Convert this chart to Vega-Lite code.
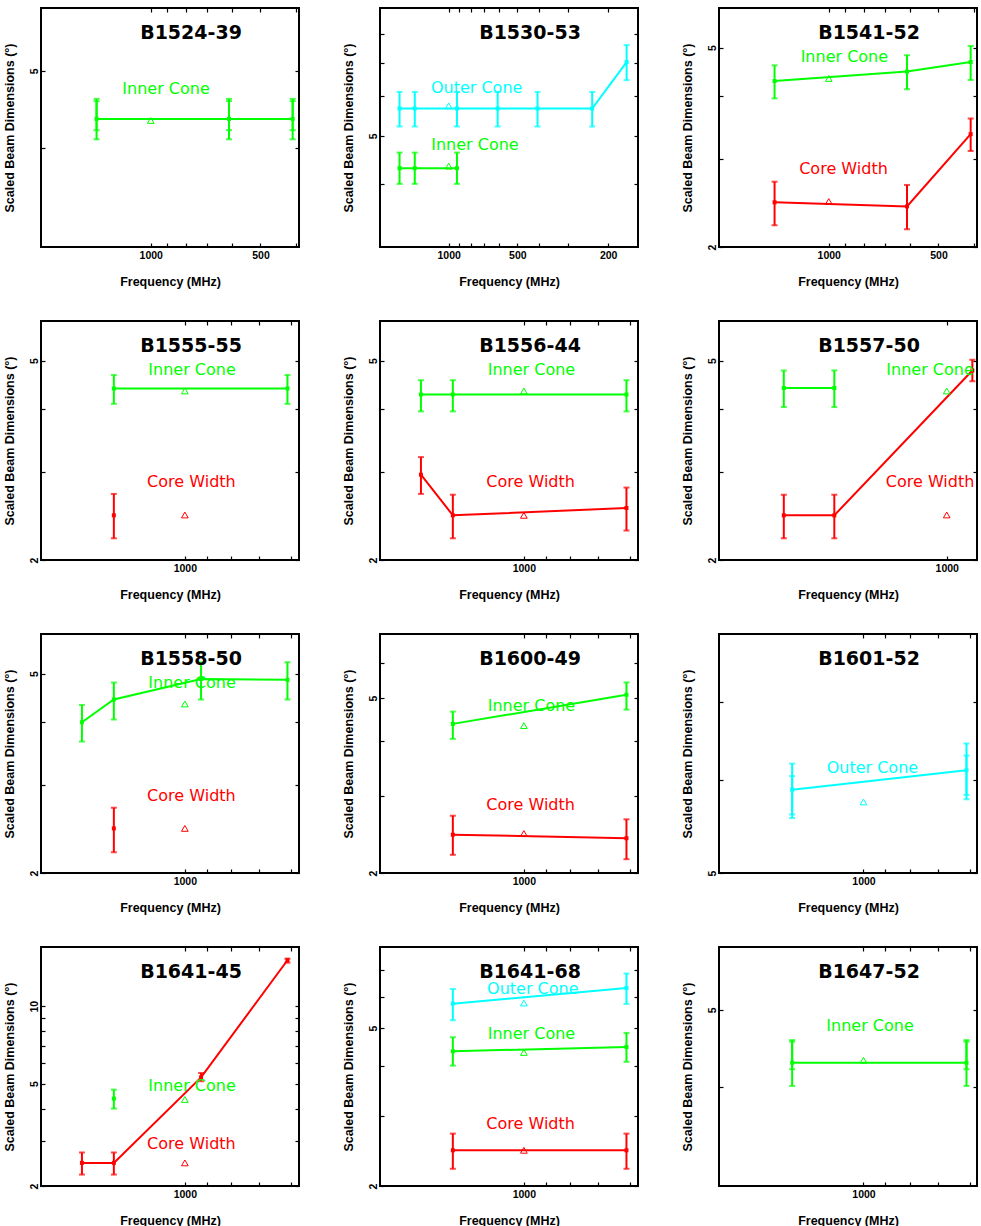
{
"$schema": "https://vega.github.io/schema/vega-lite/v6.json",
"background": "white",
"padding": {"left": 2, "top": 6, "right": 0, "bottom": 0},
"columns": 3,
"spacing": {"row": 74, "column": 81},
"bounds": "flush",
"data": {"values": [
{"p":"B1524-39","k":"p","c":"Inner Cone","f":1408,"v":4.35},
{"p":"B1524-39","k":"p","c":"Inner Cone","f":610,"v":4.35},
{"p":"B1524-39","k":"p","c":"Inner Cone","f":408,"v":4.35},
{"p":"B1524-39","k":"e","c":"Inner Cone","f":1408,"lo":4.10,"hi":4.61},
{"p":"B1524-39","k":"e","c":"Inner Cone","f":1408,"lo":4.21,"hi":4.58},
{"p":"B1524-39","k":"e","c":"Inner Cone","f":610,"lo":4.10,"hi":4.61},
{"p":"B1524-39","k":"e","c":"Inner Cone","f":610,"lo":4.21,"hi":4.58},
{"p":"B1524-39","k":"e","c":"Inner Cone","f":408,"lo":4.10,"hi":4.61},
{"p":"B1524-39","k":"e","c":"Inner Cone","f":408,"lo":4.21,"hi":4.58},
{"p":"B1524-39","k":"t","c":"Inner Cone","f":1000,"v":4.33},
{"p":"B1524-39","k":"l","c":"Inner Cone","f":908,"v":4.75},

{"p":"B1530-53","k":"p","c":"Outer Cone","f":1642,"v":5.67},
{"p":"B1530-53","k":"p","c":"Outer Cone","f":1408,"v":5.67},
{"p":"B1530-53","k":"p","c":"Outer Cone","f":920,"v":5.67},
{"p":"B1530-53","k":"p","c":"Outer Cone","f":610,"v":5.67},
{"p":"B1530-53","k":"p","c":"Outer Cone","f":408,"v":5.67},
{"p":"B1530-53","k":"p","c":"Outer Cone","f":235,"v":5.67},
{"p":"B1530-53","k":"p","c":"Outer Cone","f":166,"v":7.02},
{"p":"B1530-53","k":"e","c":"Outer Cone","f":1642,"lo":5.22,"hi":6.12},
{"p":"B1530-53","k":"e","c":"Outer Cone","f":1408,"lo":5.22,"hi":6.12},
{"p":"B1530-53","k":"e","c":"Outer Cone","f":920,"lo":5.22,"hi":6.12},
{"p":"B1530-53","k":"e","c":"Outer Cone","f":610,"lo":5.22,"hi":6.12},
{"p":"B1530-53","k":"e","c":"Outer Cone","f":408,"lo":5.22,"hi":6.12},
{"p":"B1530-53","k":"e","c":"Outer Cone","f":235,"lo":5.22,"hi":6.12},
{"p":"B1530-53","k":"e","c":"Outer Cone","f":166,"lo":6.46,"hi":7.59},
{"p":"B1530-53","k":"p","c":"Inner Cone","f":1642,"v":4.31},
{"p":"B1530-53","k":"p","c":"Inner Cone","f":1408,"v":4.31},
{"p":"B1530-53","k":"p","c":"Inner Cone","f":920,"v":4.31},
{"p":"B1530-53","k":"e","c":"Inner Cone","f":1642,"lo":4.01,"hi":4.63},
{"p":"B1530-53","k":"e","c":"Inner Cone","f":1408,"lo":4.01,"hi":4.63},
{"p":"B1530-53","k":"e","c":"Inner Cone","f":920,"lo":4.01,"hi":4.63},
{"p":"B1530-53","k":"t","c":"Outer Cone","f":1000,"v":5.74},
{"p":"B1530-53","k":"t","c":"Inner Cone","f":1000,"v":4.35},
{"p":"B1530-53","k":"l","c":"Outer Cone","f":754,"v":6.24},
{"p":"B1530-53","k":"l","c":"Inner Cone","f":767,"v":4.79},

{"p":"B1541-52","k":"p","c":"Inner Cone","f":1408,"v":4.29},
{"p":"B1541-52","k":"p","c":"Inner Cone","f":610,"v":4.48},
{"p":"B1541-52","k":"p","c":"Inner Cone","f":408,"v":4.68},
{"p":"B1541-52","k":"e","c":"Inner Cone","f":1408,"lo":3.96,"hi":4.61},
{"p":"B1541-52","k":"e","c":"Inner Cone","f":610,"lo":4.13,"hi":4.83},
{"p":"B1541-52","k":"e","c":"Inner Cone","f":408,"lo":4.31,"hi":5.04},
{"p":"B1541-52","k":"p","c":"Core Width","f":1408,"v":2.456},
{"p":"B1541-52","k":"p","c":"Core Width","f":610,"v":2.41},
{"p":"B1541-52","k":"p","c":"Core Width","f":408,"v":3.36},
{"p":"B1541-52","k":"e","c":"Core Width","f":1408,"lo":2.21,"hi":2.70},
{"p":"B1541-52","k":"e","c":"Core Width","f":610,"lo":2.17,"hi":2.66},
{"p":"B1541-52","k":"e","c":"Core Width","f":408,"lo":3.11,"hi":3.61},
{"p":"B1541-52","k":"t","c":"Inner Cone","f":1000,"v":4.34},
{"p":"B1541-52","k":"t","c":"Core Width","f":1000,"v":2.465},
{"p":"B1541-52","k":"l","c":"Inner Cone","f":906,"v":4.79},
{"p":"B1541-52","k":"l","c":"Core Width","f":911,"v":2.86},

{"p":"B1555-55","k":"p","c":"Inner Cone","f":1408,"v":4.40},
{"p":"B1555-55","k":"p","c":"Inner Cone","f":610,"v":4.40},
{"p":"B1555-55","k":"e","c":"Inner Cone","f":1408,"lo":4.10,"hi":4.68},
{"p":"B1555-55","k":"e","c":"Inner Cone","f":610,"lo":4.10,"hi":4.68},
{"p":"B1555-55","k":"p","c":"Core Width","f":1408,"v":2.456},
{"p":"B1555-55","k":"e","c":"Core Width","f":1408,"lo":2.21,"hi":2.71},
{"p":"B1555-55","k":"t","c":"Inner Cone","f":1000,"v":4.35},
{"p":"B1555-55","k":"t","c":"Core Width","f":1000,"v":2.46},
{"p":"B1555-55","k":"l","c":"Inner Cone","f":966,"v":4.80},
{"p":"B1555-55","k":"l","c":"Core Width","f":969,"v":2.86},

{"p":"B1556-44","k":"p","c":"Inner Cone","f":1642,"v":4.28},
{"p":"B1556-44","k":"p","c":"Inner Cone","f":1408,"v":4.28},
{"p":"B1556-44","k":"p","c":"Inner Cone","f":610,"v":4.28},
{"p":"B1556-44","k":"e","c":"Inner Cone","f":1642,"lo":3.96,"hi":4.57},
{"p":"B1556-44","k":"e","c":"Inner Cone","f":1408,"lo":3.96,"hi":4.57},
{"p":"B1556-44","k":"e","c":"Inner Cone","f":610,"lo":3.96,"hi":4.57},
{"p":"B1556-44","k":"p","c":"Core Width","f":1642,"v":2.96},
{"p":"B1556-44","k":"p","c":"Core Width","f":1408,"v":2.456},
{"p":"B1556-44","k":"p","c":"Core Width","f":610,"v":2.54},
{"p":"B1556-44","k":"e","c":"Core Width","f":1642,"lo":2.71,"hi":3.21},
{"p":"B1556-44","k":"e","c":"Core Width","f":1408,"lo":2.21,"hi":2.70},
{"p":"B1556-44","k":"e","c":"Core Width","f":610,"lo":2.29,"hi":2.79},
{"p":"B1556-44","k":"t","c":"Inner Cone","f":1000,"v":4.35},
{"p":"B1556-44","k":"t","c":"Core Width","f":1000,"v":2.456},
{"p":"B1556-44","k":"l","c":"Inner Cone","f":964,"v":4.80},
{"p":"B1556-44","k":"l","c":"Core Width","f":968,"v":2.86},

{"p":"B1557-50","k":"p","c":"Inner Cone","f":1642,"v":4.41},
{"p":"B1557-50","k":"p","c":"Inner Cone","f":1408,"v":4.41},
{"p":"B1557-50","k":"e","c":"Inner Cone","f":1642,"lo":4.04,"hi":4.78},
{"p":"B1557-50","k":"e","c":"Inner Cone","f":1408,"lo":4.04,"hi":4.78},
{"p":"B1557-50","k":"p","c":"Core Width","f":1642,"v":2.456},
{"p":"B1557-50","k":"p","c":"Core Width","f":1408,"v":2.456},
{"p":"B1557-50","k":"p","c":"Core Width","f":925,"v":4.78},
{"p":"B1557-50","k":"e","c":"Core Width","f":1642,"lo":2.21,"hi":2.70},
{"p":"B1557-50","k":"e","c":"Core Width","f":1408,"lo":2.21,"hi":2.70},
{"p":"B1557-50","k":"e","c":"Core Width","f":925,"lo":4.55,"hi":5.02},
{"p":"B1557-50","k":"t","c":"Inner Cone","f":1000,"v":4.35},
{"p":"B1557-50","k":"t","c":"Core Width","f":1000,"v":2.46},
{"p":"B1557-50","k":"l","c":"Inner Cone","f":1052,"v":4.80},
{"p":"B1557-50","k":"l","c":"Core Width","f":1052,"v":2.86},

{"p":"B1558-50","k":"p","c":"Inner Cone","f":1642,"v":4.00},
{"p":"B1558-50","k":"p","c":"Inner Cone","f":1408,"v":4.44},
{"p":"B1558-50","k":"p","c":"Inner Cone","f":925,"v":4.88},
{"p":"B1558-50","k":"p","c":"Inner Cone","f":610,"v":4.86},
{"p":"B1558-50","k":"e","c":"Inner Cone","f":1642,"lo":3.66,"hi":4.33},
{"p":"B1558-50","k":"e","c":"Inner Cone","f":1408,"lo":4.05,"hi":4.80},
{"p":"B1558-50","k":"e","c":"Inner Cone","f":925,"lo":4.44,"hi":5.27},
{"p":"B1558-50","k":"e","c":"Inner Cone","f":610,"lo":4.44,"hi":5.27},
{"p":"B1558-50","k":"p","c":"Core Width","f":1408,"v":2.455},
{"p":"B1558-50","k":"e","c":"Core Width","f":1408,"lo":2.20,"hi":2.70},
{"p":"B1558-50","k":"t","c":"Inner Cone","f":1000,"v":4.35},
{"p":"B1558-50","k":"t","c":"Core Width","f":1000,"v":2.455},
{"p":"B1558-50","k":"l","c":"Inner Cone","f":966,"v":4.78},
{"p":"B1558-50","k":"l","c":"Core Width","f":969,"v":2.85},

{"p":"B1600-49","k":"p","c":"Inner Cone","f":1408,"v":4.37},
{"p":"B1600-49","k":"p","c":"Inner Cone","f":610,"v":5.09},
{"p":"B1600-49","k":"e","c":"Inner Cone","f":1408,"lo":4.04,"hi":4.66},
{"p":"B1600-49","k":"e","c":"Inner Cone","f":610,"lo":4.71,"hi":5.43},
{"p":"B1600-49","k":"p","c":"Core Width","f":1408,"v":2.445},
{"p":"B1600-49","k":"p","c":"Core Width","f":610,"v":2.40},
{"p":"B1600-49","k":"e","c":"Core Width","f":1408,"lo":2.20,"hi":2.70},
{"p":"B1600-49","k":"e","c":"Core Width","f":610,"lo":2.15,"hi":2.65},
{"p":"B1600-49","k":"t","c":"Inner Cone","f":1000,"v":4.33},
{"p":"B1600-49","k":"t","c":"Core Width","f":1000,"v":2.46},
{"p":"B1600-49","k":"l","c":"Inner Cone","f":964,"v":4.81},
{"p":"B1600-49","k":"l","c":"Core Width","f":968,"v":2.86},

{"p":"B1601-52","k":"p","c":"Outer Cone","f":1408,"v":5.89},
{"p":"B1601-52","k":"p","c":"Outer Cone","f":610,"v":6.12},
{"p":"B1601-52","k":"e","c":"Outer Cone","f":1408,"lo":5.57,"hi":6.20},
{"p":"B1601-52","k":"e","c":"Outer Cone","f":1408,"lo":5.61,"hi":6.05},
{"p":"B1601-52","k":"e","c":"Outer Cone","f":610,"lo":5.78,"hi":6.45},
{"p":"B1601-52","k":"e","c":"Outer Cone","f":610,"lo":5.83,"hi":6.30},
{"p":"B1601-52","k":"t","c":"Outer Cone","f":1000,"v":5.75},
{"p":"B1601-52","k":"l","c":"Outer Cone","f":958,"v":6.15},

{"p":"B1641-45","k":"p","c":"Core Width","f":1642,"v":2.46},
{"p":"B1641-45","k":"p","c":"Core Width","f":1408,"v":2.46},
{"p":"B1641-45","k":"p","c":"Core Width","f":925,"v":5.29},
{"p":"B1641-45","k":"p","c":"Core Width","f":610,"v":15.1},
{"p":"B1641-45","k":"e","c":"Core Width","f":1642,"lo":2.215,"hi":2.70},
{"p":"B1641-45","k":"e","c":"Core Width","f":1408,"lo":2.215,"hi":2.70},
{"p":"B1641-45","k":"e","c":"Core Width","f":925,"lo":5.11,"hi":5.50},
{"p":"B1641-45","k":"e","c":"Core Width","f":610,"lo":14.78,"hi":15.32},
{"p":"B1641-45","k":"p","c":"Inner Cone","f":1408,"v":4.375},
{"p":"B1641-45","k":"e","c":"Inner Cone","f":1408,"lo":4.00,"hi":4.74},
{"p":"B1641-45","k":"t","c":"Inner Cone","f":1000,"v":4.34},
{"p":"B1641-45","k":"t","c":"Core Width","f":1000,"v":2.46},
{"p":"B1641-45","k":"l","c":"Inner Cone","f":966,"v":4.89},
{"p":"B1641-45","k":"l","c":"Core Width","f":969,"v":2.92},

{"p":"B1641-68","k":"p","c":"Outer Cone","f":1408,"v":5.76},
{"p":"B1641-68","k":"p","c":"Outer Cone","f":610,"v":6.31},
{"p":"B1641-68","k":"e","c":"Outer Cone","f":1408,"lo":5.23,"hi":6.27},
{"p":"B1641-68","k":"e","c":"Outer Cone","f":610,"lo":5.75,"hi":6.86},
{"p":"B1641-68","k":"p","c":"Inner Cone","f":1408,"v":4.37},
{"p":"B1641-68","k":"p","c":"Inner Cone","f":610,"v":4.48},
{"p":"B1641-68","k":"e","c":"Inner Cone","f":1408,"lo":4.02,"hi":4.74},
{"p":"B1641-68","k":"e","c":"Inner Cone","f":610,"lo":4.11,"hi":4.86},
{"p":"B1641-68","k":"p","c":"Core Width","f":1408,"v":2.46},
{"p":"B1641-68","k":"p","c":"Core Width","f":610,"v":2.46},
{"p":"B1641-68","k":"e","c":"Core Width","f":1408,"lo":2.21,"hi":2.71},
{"p":"B1641-68","k":"e","c":"Core Width","f":610,"lo":2.21,"hi":2.71},
{"p":"B1641-68","k":"t","c":"Outer Cone","f":1000,"v":5.78},
{"p":"B1641-68","k":"t","c":"Inner Cone","f":1000,"v":4.34},
{"p":"B1641-68","k":"t","c":"Core Width","f":1000,"v":2.46},
{"p":"B1641-68","k":"l","c":"Outer Cone","f":958,"v":6.27},
{"p":"B1641-68","k":"l","c":"Inner Cone","f":964,"v":4.82},
{"p":"B1641-68","k":"l","c":"Core Width","f":968,"v":2.87},

{"p":"B1647-52","k":"p","c":"Inner Cone","f":1408,"v":4.29},
{"p":"B1647-52","k":"p","c":"Inner Cone","f":610,"v":4.29},
{"p":"B1647-52","k":"e","c":"Inner Cone","f":1408,"lo":4.01,"hi":4.58},
{"p":"B1647-52","k":"e","c":"Inner Cone","f":1408,"lo":4.21,"hi":4.56},
{"p":"B1647-52","k":"e","c":"Inner Cone","f":610,"lo":4.01,"hi":4.58},
{"p":"B1647-52","k":"e","c":"Inner Cone","f":610,"lo":4.21,"hi":4.56},
{"p":"B1647-52","k":"t","c":"Inner Cone","f":1000,"v":4.32},
{"p":"B1647-52","k":"l","c":"Inner Cone","f":969,"v":4.77}
]},
"concat": [
{"title":"B1524-39","width":258,"height":239,"transform":[{"filter":"datum.p == 'B1524-39'"}],"resolve":{"axis":{"x":"independent","y":"independent"}},"layer":[
 {"transform":[{"filter":"datum.k == 'e'"}],"mark":{"type":"rule","strokeWidth":2},"encoding":{"x":{"field":"f","type":"quantitative","scale":{"type":"log","domain":[392,2000],"reverse":true,"nice":false},"axis":{"orient":"bottom","values":[400,500,600,700,800,900,1000],"title":"Frequency (MHz)","format":"d","labelExpr":"indexof([2,5,10,200,500,1000], datum.value) >= 0 ? datum.label : ''"}},"y":{"field":"lo","type":"quantitative","scale":{"type":"log","domain":[3,6],"nice":false},"axis":{"orient":"left","values":[4,5],"title":"Scaled Beam Dimensions (°)","format":"d","labelExpr":"indexof([2,5,10,200,500,1000], datum.value) >= 0 ? datum.label : ''"}},"y2":{"field":"hi"},"color":{"field":"c","type":"nominal"}}},
 {"transform":[{"filter":"datum.k == 'e'"},{"fold":["lo","hi"],"as":["end","w"]}],"mark":{"type":"tick","orient":"horizontal","size":6,"thickness":2},"encoding":{"x":{"field":"f","type":"quantitative","axis":null},"y":{"field":"w","type":"quantitative","axis":null},"color":{"field":"c","type":"nominal"}}},
 {"transform":[{"filter":"datum.k == 'p'"}],"mark":{"type":"line","strokeWidth":2},"encoding":{"x":{"field":"f","type":"quantitative","axis":{"orient":"top","values":[400,500,600,700,800,900,1000],"labels":false,"title":null}},"y":{"field":"v","type":"quantitative","axis":{"orient":"right","values":[4,5],"labels":false,"title":null}},"color":{"field":"c","type":"nominal"}}},
 {"transform":[{"filter":"datum.k == 'p'"}],"mark":{"type":"square","size":16,"opacity":1},"encoding":{"x":{"field":"f","type":"quantitative","axis":null},"y":{"field":"v","type":"quantitative","axis":null},"color":{"field":"c","type":"nominal"}}},
 {"transform":[{"filter":"datum.k == 't'"}],"mark":{"type":"point","shape":"triangle-up","size":45,"strokeWidth":1,"opacity":1},"encoding":{"x":{"field":"f","type":"quantitative","axis":null},"y":{"field":"v","type":"quantitative","axis":null},"color":{"field":"c","type":"nominal"}}},
 {"transform":[{"filter":"datum.k == 'l'"}],"mark":{"type":"text","font":"DejaVu Sans","fontSize":16,"baseline":"middle"},"encoding":{"x":{"field":"f","type":"quantitative","axis":null},"y":{"field":"v","type":"quantitative","axis":null},"text":{"field":"c"},"color":{"field":"c","type":"nominal"}}}
]},
{"title":"B1530-53","width":258,"height":239,"transform":[{"filter":"datum.p == 'B1530-53'"}],"resolve":{"axis":{"x":"independent","y":"independent"}},"layer":[
 {"transform":[{"filter":"datum.k == 'e'"}],"mark":{"type":"rule","strokeWidth":2},"encoding":{"x":{"field":"f","type":"quantitative","scale":{"type":"log","domain":[148,2000],"reverse":true,"nice":false},"axis":{"orient":"bottom","values":[200,300,400,500,600,700,800,900,1000],"title":"Frequency (MHz)","format":"d","labelExpr":"indexof([2,5,10,200,500,1000], datum.value) >= 0 ? datum.label : ''"}},"y":{"field":"lo","type":"quantitative","scale":{"type":"log","domain":[3,9],"nice":false},"axis":{"orient":"left","values":[4,5,6,7,8],"title":"Scaled Beam Dimensions (°)","format":"d","labelExpr":"indexof([2,5,10,200,500,1000], datum.value) >= 0 ? datum.label : ''"}},"y2":{"field":"hi"},"color":{"field":"c","type":"nominal"}}},
 {"transform":[{"filter":"datum.k == 'e'"},{"fold":["lo","hi"],"as":["end","w"]}],"mark":{"type":"tick","orient":"horizontal","size":6,"thickness":2},"encoding":{"x":{"field":"f","type":"quantitative","axis":null},"y":{"field":"w","type":"quantitative","axis":null},"color":{"field":"c","type":"nominal"}}},
 {"transform":[{"filter":"datum.k == 'p'"}],"mark":{"type":"line","strokeWidth":2},"encoding":{"x":{"field":"f","type":"quantitative","axis":{"orient":"top","values":[200,300,400,500,600,700,800,900,1000],"labels":false,"title":null}},"y":{"field":"v","type":"quantitative","axis":{"orient":"right","values":[4,5,6,7,8],"labels":false,"title":null}},"color":{"field":"c","type":"nominal"}}},
 {"transform":[{"filter":"datum.k == 'p'"}],"mark":{"type":"square","size":16,"opacity":1},"encoding":{"x":{"field":"f","type":"quantitative","axis":null},"y":{"field":"v","type":"quantitative","axis":null},"color":{"field":"c","type":"nominal"}}},
 {"transform":[{"filter":"datum.k == 't'"}],"mark":{"type":"point","shape":"triangle-up","size":45,"strokeWidth":1,"opacity":1},"encoding":{"x":{"field":"f","type":"quantitative","axis":null},"y":{"field":"v","type":"quantitative","axis":null},"color":{"field":"c","type":"nominal"}}},
 {"transform":[{"filter":"datum.k == 'l'"}],"mark":{"type":"text","font":"DejaVu Sans","fontSize":16,"baseline":"middle"},"encoding":{"x":{"field":"f","type":"quantitative","axis":null},"y":{"field":"v","type":"quantitative","axis":null},"text":{"field":"c"},"color":{"field":"c","type":"nominal"}}}
]},
{"title":"B1541-52","width":258,"height":239,"transform":[{"filter":"datum.p == 'B1541-52'"}],"resolve":{"axis":{"x":"independent","y":"independent"}},"layer":[
 {"transform":[{"filter":"datum.k == 'e'"}],"mark":{"type":"rule","strokeWidth":2},"encoding":{"x":{"field":"f","type":"quantitative","scale":{"type":"log","domain":[392,2000],"reverse":true,"nice":false},"axis":{"orient":"bottom","values":[400,500,600,700,800,900,1000],"title":"Frequency (MHz)","format":"d","labelExpr":"indexof([2,5,10,200,500,1000], datum.value) >= 0 ? datum.label : ''"}},"y":{"field":"lo","type":"quantitative","scale":{"type":"log","domain":[2,6],"nice":false},"axis":{"orient":"left","values":[2,3,4,5],"title":"Scaled Beam Dimensions (°)","format":"d","labelExpr":"indexof([2,5,10,200,500,1000], datum.value) >= 0 ? datum.label : ''"}},"y2":{"field":"hi"},"color":{"field":"c","type":"nominal"}}},
 {"transform":[{"filter":"datum.k == 'e'"},{"fold":["lo","hi"],"as":["end","w"]}],"mark":{"type":"tick","orient":"horizontal","size":6,"thickness":2},"encoding":{"x":{"field":"f","type":"quantitative","axis":null},"y":{"field":"w","type":"quantitative","axis":null},"color":{"field":"c","type":"nominal"}}},
 {"transform":[{"filter":"datum.k == 'p'"}],"mark":{"type":"line","strokeWidth":2},"encoding":{"x":{"field":"f","type":"quantitative","axis":{"orient":"top","values":[400,500,600,700,800,900,1000],"labels":false,"title":null}},"y":{"field":"v","type":"quantitative","axis":{"orient":"right","values":[2,3,4,5],"labels":false,"title":null}},"color":{"field":"c","type":"nominal"}}},
 {"transform":[{"filter":"datum.k == 'p'"}],"mark":{"type":"square","size":16,"opacity":1},"encoding":{"x":{"field":"f","type":"quantitative","axis":null},"y":{"field":"v","type":"quantitative","axis":null},"color":{"field":"c","type":"nominal"}}},
 {"transform":[{"filter":"datum.k == 't'"}],"mark":{"type":"point","shape":"triangle-up","size":45,"strokeWidth":1,"opacity":1},"encoding":{"x":{"field":"f","type":"quantitative","axis":null},"y":{"field":"v","type":"quantitative","axis":null},"color":{"field":"c","type":"nominal"}}},
 {"transform":[{"filter":"datum.k == 'l'"}],"mark":{"type":"text","font":"DejaVu Sans","fontSize":16,"baseline":"middle"},"encoding":{"x":{"field":"f","type":"quantitative","axis":null},"y":{"field":"v","type":"quantitative","axis":null},"text":{"field":"c"},"color":{"field":"c","type":"nominal"}}}
]},
{"title":"B1555-55","width":258,"height":239,"transform":[{"filter":"datum.p == 'B1555-55'"}],"resolve":{"axis":{"x":"independent","y":"independent"}},"layer":[
 {"transform":[{"filter":"datum.k == 'e'"}],"mark":{"type":"rule","strokeWidth":2},"encoding":{"x":{"field":"f","type":"quantitative","scale":{"type":"log","domain":[577,2000],"reverse":true,"nice":false},"axis":{"orient":"bottom","values":[600,700,800,900,1000],"title":"Frequency (MHz)","format":"d","labelExpr":"indexof([2,5,10,200,500,1000], datum.value) >= 0 ? datum.label : ''"}},"y":{"field":"lo","type":"quantitative","scale":{"type":"log","domain":[2,6],"nice":false},"axis":{"orient":"left","values":[2,3,4,5],"title":"Scaled Beam Dimensions (°)","format":"d","labelExpr":"indexof([2,5,10,200,500,1000], datum.value) >= 0 ? datum.label : ''"}},"y2":{"field":"hi"},"color":{"field":"c","type":"nominal"}}},
 {"transform":[{"filter":"datum.k == 'e'"},{"fold":["lo","hi"],"as":["end","w"]}],"mark":{"type":"tick","orient":"horizontal","size":6,"thickness":2},"encoding":{"x":{"field":"f","type":"quantitative","axis":null},"y":{"field":"w","type":"quantitative","axis":null},"color":{"field":"c","type":"nominal"}}},
 {"transform":[{"filter":"datum.k == 'p'"}],"mark":{"type":"line","strokeWidth":2},"encoding":{"x":{"field":"f","type":"quantitative","axis":{"orient":"top","values":[600,700,800,900,1000],"labels":false,"title":null}},"y":{"field":"v","type":"quantitative","axis":{"orient":"right","values":[2,3,4,5],"labels":false,"title":null}},"color":{"field":"c","type":"nominal"}}},
 {"transform":[{"filter":"datum.k == 'p'"}],"mark":{"type":"square","size":16,"opacity":1},"encoding":{"x":{"field":"f","type":"quantitative","axis":null},"y":{"field":"v","type":"quantitative","axis":null},"color":{"field":"c","type":"nominal"}}},
 {"transform":[{"filter":"datum.k == 't'"}],"mark":{"type":"point","shape":"triangle-up","size":45,"strokeWidth":1,"opacity":1},"encoding":{"x":{"field":"f","type":"quantitative","axis":null},"y":{"field":"v","type":"quantitative","axis":null},"color":{"field":"c","type":"nominal"}}},
 {"transform":[{"filter":"datum.k == 'l'"}],"mark":{"type":"text","font":"DejaVu Sans","fontSize":16,"baseline":"middle"},"encoding":{"x":{"field":"f","type":"quantitative","axis":null},"y":{"field":"v","type":"quantitative","axis":null},"text":{"field":"c"},"color":{"field":"c","type":"nominal"}}}
]},
{"title":"B1556-44","width":258,"height":239,"transform":[{"filter":"datum.p == 'B1556-44'"}],"resolve":{"axis":{"x":"independent","y":"independent"}},"layer":[
 {"transform":[{"filter":"datum.k == 'e'"}],"mark":{"type":"rule","strokeWidth":2},"encoding":{"x":{"field":"f","type":"quantitative","scale":{"type":"log","domain":[577,2000],"reverse":true,"nice":false},"axis":{"orient":"bottom","values":[600,700,800,900,1000],"title":"Frequency (MHz)","format":"d","labelExpr":"indexof([2,5,10,200,500,1000], datum.value) >= 0 ? datum.label : ''"}},"y":{"field":"lo","type":"quantitative","scale":{"type":"log","domain":[2,6],"nice":false},"axis":{"orient":"left","values":[2,3,4,5],"title":"Scaled Beam Dimensions (°)","format":"d","labelExpr":"indexof([2,5,10,200,500,1000], datum.value) >= 0 ? datum.label : ''"}},"y2":{"field":"hi"},"color":{"field":"c","type":"nominal"}}},
 {"transform":[{"filter":"datum.k == 'e'"},{"fold":["lo","hi"],"as":["end","w"]}],"mark":{"type":"tick","orient":"horizontal","size":6,"thickness":2},"encoding":{"x":{"field":"f","type":"quantitative","axis":null},"y":{"field":"w","type":"quantitative","axis":null},"color":{"field":"c","type":"nominal"}}},
 {"transform":[{"filter":"datum.k == 'p'"}],"mark":{"type":"line","strokeWidth":2},"encoding":{"x":{"field":"f","type":"quantitative","axis":{"orient":"top","values":[600,700,800,900,1000],"labels":false,"title":null}},"y":{"field":"v","type":"quantitative","axis":{"orient":"right","values":[2,3,4,5],"labels":false,"title":null}},"color":{"field":"c","type":"nominal"}}},
 {"transform":[{"filter":"datum.k == 'p'"}],"mark":{"type":"square","size":16,"opacity":1},"encoding":{"x":{"field":"f","type":"quantitative","axis":null},"y":{"field":"v","type":"quantitative","axis":null},"color":{"field":"c","type":"nominal"}}},
 {"transform":[{"filter":"datum.k == 't'"}],"mark":{"type":"point","shape":"triangle-up","size":45,"strokeWidth":1,"opacity":1},"encoding":{"x":{"field":"f","type":"quantitative","axis":null},"y":{"field":"v","type":"quantitative","axis":null},"color":{"field":"c","type":"nominal"}}},
 {"transform":[{"filter":"datum.k == 'l'"}],"mark":{"type":"text","font":"DejaVu Sans","fontSize":16,"baseline":"middle"},"encoding":{"x":{"field":"f","type":"quantitative","axis":null},"y":{"field":"v","type":"quantitative","axis":null},"text":{"field":"c"},"color":{"field":"c","type":"nominal"}}}
]},
{"title":"B1557-50","width":258,"height":239,"transform":[{"filter":"datum.p == 'B1557-50'"}],"resolve":{"axis":{"x":"independent","y":"independent"}},"layer":[
 {"transform":[{"filter":"datum.k == 'e'"}],"mark":{"type":"rule","strokeWidth":2},"encoding":{"x":{"field":"f","type":"quantitative","scale":{"type":"log","domain":[912,2000],"reverse":true,"nice":false},"axis":{"orient":"bottom","values":[1000],"title":"Frequency (MHz)","format":"d","labelExpr":"indexof([2,5,10,200,500,1000], datum.value) >= 0 ? datum.label : ''"}},"y":{"field":"lo","type":"quantitative","scale":{"type":"log","domain":[2,6],"nice":false},"axis":{"orient":"left","values":[2,3,4,5],"title":"Scaled Beam Dimensions (°)","format":"d","labelExpr":"indexof([2,5,10,200,500,1000], datum.value) >= 0 ? datum.label : ''"}},"y2":{"field":"hi"},"color":{"field":"c","type":"nominal"}}},
 {"transform":[{"filter":"datum.k == 'e'"},{"fold":["lo","hi"],"as":["end","w"]}],"mark":{"type":"tick","orient":"horizontal","size":6,"thickness":2},"encoding":{"x":{"field":"f","type":"quantitative","axis":null},"y":{"field":"w","type":"quantitative","axis":null},"color":{"field":"c","type":"nominal"}}},
 {"transform":[{"filter":"datum.k == 'p'"}],"mark":{"type":"line","strokeWidth":2},"encoding":{"x":{"field":"f","type":"quantitative","axis":{"orient":"top","values":[1000],"labels":false,"title":null}},"y":{"field":"v","type":"quantitative","axis":{"orient":"right","values":[2,3,4,5],"labels":false,"title":null}},"color":{"field":"c","type":"nominal"}}},
 {"transform":[{"filter":"datum.k == 'p'"}],"mark":{"type":"square","size":16,"opacity":1},"encoding":{"x":{"field":"f","type":"quantitative","axis":null},"y":{"field":"v","type":"quantitative","axis":null},"color":{"field":"c","type":"nominal"}}},
 {"transform":[{"filter":"datum.k == 't'"}],"mark":{"type":"point","shape":"triangle-up","size":45,"strokeWidth":1,"opacity":1},"encoding":{"x":{"field":"f","type":"quantitative","axis":null},"y":{"field":"v","type":"quantitative","axis":null},"color":{"field":"c","type":"nominal"}}},
 {"transform":[{"filter":"datum.k == 'l'"}],"mark":{"type":"text","font":"DejaVu Sans","fontSize":16,"baseline":"middle"},"encoding":{"x":{"field":"f","type":"quantitative","axis":null},"y":{"field":"v","type":"quantitative","axis":null},"text":{"field":"c"},"color":{"field":"c","type":"nominal"}}}
]},
{"title":"B1558-50","width":258,"height":239,"transform":[{"filter":"datum.p == 'B1558-50'"}],"resolve":{"axis":{"x":"independent","y":"independent"}},"layer":[
 {"transform":[{"filter":"datum.k == 'e'"}],"mark":{"type":"rule","strokeWidth":2},"encoding":{"x":{"field":"f","type":"quantitative","scale":{"type":"log","domain":[577,2000],"reverse":true,"nice":false},"axis":{"orient":"bottom","values":[600,700,800,900,1000],"title":"Frequency (MHz)","format":"d","labelExpr":"indexof([2,5,10,200,500,1000], datum.value) >= 0 ? datum.label : ''"}},"y":{"field":"lo","type":"quantitative","scale":{"type":"log","domain":[2,6],"nice":false},"axis":{"orient":"left","values":[2,3,4,5],"title":"Scaled Beam Dimensions (°)","format":"d","labelExpr":"indexof([2,5,10,200,500,1000], datum.value) >= 0 ? datum.label : ''"}},"y2":{"field":"hi"},"color":{"field":"c","type":"nominal"}}},
 {"transform":[{"filter":"datum.k == 'e'"},{"fold":["lo","hi"],"as":["end","w"]}],"mark":{"type":"tick","orient":"horizontal","size":6,"thickness":2},"encoding":{"x":{"field":"f","type":"quantitative","axis":null},"y":{"field":"w","type":"quantitative","axis":null},"color":{"field":"c","type":"nominal"}}},
 {"transform":[{"filter":"datum.k == 'p'"}],"mark":{"type":"line","strokeWidth":2},"encoding":{"x":{"field":"f","type":"quantitative","axis":{"orient":"top","values":[600,700,800,900,1000],"labels":false,"title":null}},"y":{"field":"v","type":"quantitative","axis":{"orient":"right","values":[2,3,4,5],"labels":false,"title":null}},"color":{"field":"c","type":"nominal"}}},
 {"transform":[{"filter":"datum.k == 'p'"}],"mark":{"type":"square","size":16,"opacity":1},"encoding":{"x":{"field":"f","type":"quantitative","axis":null},"y":{"field":"v","type":"quantitative","axis":null},"color":{"field":"c","type":"nominal"}}},
 {"transform":[{"filter":"datum.k == 't'"}],"mark":{"type":"point","shape":"triangle-up","size":45,"strokeWidth":1,"opacity":1},"encoding":{"x":{"field":"f","type":"quantitative","axis":null},"y":{"field":"v","type":"quantitative","axis":null},"color":{"field":"c","type":"nominal"}}},
 {"transform":[{"filter":"datum.k == 'l'"}],"mark":{"type":"text","font":"DejaVu Sans","fontSize":16,"baseline":"middle"},"encoding":{"x":{"field":"f","type":"quantitative","axis":null},"y":{"field":"v","type":"quantitative","axis":null},"text":{"field":"c"},"color":{"field":"c","type":"nominal"}}}
]},
{"title":"B1600-49","width":258,"height":239,"transform":[{"filter":"datum.p == 'B1600-49'"}],"resolve":{"axis":{"x":"independent","y":"independent"}},"layer":[
 {"transform":[{"filter":"datum.k == 'e'"}],"mark":{"type":"rule","strokeWidth":2},"encoding":{"x":{"field":"f","type":"quantitative","scale":{"type":"log","domain":[577,2000],"reverse":true,"nice":false},"axis":{"orient":"bottom","values":[600,700,800,900,1000],"title":"Frequency (MHz)","format":"d","labelExpr":"indexof([2,5,10,200,500,1000], datum.value) >= 0 ? datum.label : ''"}},"y":{"field":"lo","type":"quantitative","scale":{"type":"log","domain":[2,7],"nice":false},"axis":{"orient":"left","values":[2,3,4,5,6],"title":"Scaled Beam Dimensions (°)","format":"d","labelExpr":"indexof([2,5,10,200,500,1000], datum.value) >= 0 ? datum.label : ''"}},"y2":{"field":"hi"},"color":{"field":"c","type":"nominal"}}},
 {"transform":[{"filter":"datum.k == 'e'"},{"fold":["lo","hi"],"as":["end","w"]}],"mark":{"type":"tick","orient":"horizontal","size":6,"thickness":2},"encoding":{"x":{"field":"f","type":"quantitative","axis":null},"y":{"field":"w","type":"quantitative","axis":null},"color":{"field":"c","type":"nominal"}}},
 {"transform":[{"filter":"datum.k == 'p'"}],"mark":{"type":"line","strokeWidth":2},"encoding":{"x":{"field":"f","type":"quantitative","axis":{"orient":"top","values":[600,700,800,900,1000],"labels":false,"title":null}},"y":{"field":"v","type":"quantitative","axis":{"orient":"right","values":[2,3,4,5,6],"labels":false,"title":null}},"color":{"field":"c","type":"nominal"}}},
 {"transform":[{"filter":"datum.k == 'p'"}],"mark":{"type":"square","size":16,"opacity":1},"encoding":{"x":{"field":"f","type":"quantitative","axis":null},"y":{"field":"v","type":"quantitative","axis":null},"color":{"field":"c","type":"nominal"}}},
 {"transform":[{"filter":"datum.k == 't'"}],"mark":{"type":"point","shape":"triangle-up","size":45,"strokeWidth":1,"opacity":1},"encoding":{"x":{"field":"f","type":"quantitative","axis":null},"y":{"field":"v","type":"quantitative","axis":null},"color":{"field":"c","type":"nominal"}}},
 {"transform":[{"filter":"datum.k == 'l'"}],"mark":{"type":"text","font":"DejaVu Sans","fontSize":16,"baseline":"middle"},"encoding":{"x":{"field":"f","type":"quantitative","axis":null},"y":{"field":"v","type":"quantitative","axis":null},"text":{"field":"c"},"color":{"field":"c","type":"nominal"}}}
]},
{"title":"B1601-52","width":258,"height":239,"transform":[{"filter":"datum.p == 'B1601-52'"}],"resolve":{"axis":{"x":"independent","y":"independent"}},"layer":[
 {"transform":[{"filter":"datum.k == 'e'"}],"mark":{"type":"rule","strokeWidth":2},"encoding":{"x":{"field":"f","type":"quantitative","scale":{"type":"log","domain":[580,2000],"reverse":true,"nice":false},"axis":{"orient":"bottom","values":[600,700,800,900,1000],"title":"Frequency (MHz)","format":"d","labelExpr":"indexof([2,5,10,200,500,1000], datum.value) >= 0 ? datum.label : ''"}},"y":{"field":"lo","type":"quantitative","scale":{"type":"log","domain":[5,8],"nice":false},"axis":{"orient":"left","values":[5,6,7],"title":"Scaled Beam Dimensions (°)","format":"d","labelExpr":"indexof([2,5,10,200,500,1000], datum.value) >= 0 ? datum.label : ''"}},"y2":{"field":"hi"},"color":{"field":"c","type":"nominal"}}},
 {"transform":[{"filter":"datum.k == 'e'"},{"fold":["lo","hi"],"as":["end","w"]}],"mark":{"type":"tick","orient":"horizontal","size":6,"thickness":2},"encoding":{"x":{"field":"f","type":"quantitative","axis":null},"y":{"field":"w","type":"quantitative","axis":null},"color":{"field":"c","type":"nominal"}}},
 {"transform":[{"filter":"datum.k == 'p'"}],"mark":{"type":"line","strokeWidth":2},"encoding":{"x":{"field":"f","type":"quantitative","axis":{"orient":"top","values":[600,700,800,900,1000],"labels":false,"title":null}},"y":{"field":"v","type":"quantitative","axis":{"orient":"right","values":[5,6,7],"labels":false,"title":null}},"color":{"field":"c","type":"nominal"}}},
 {"transform":[{"filter":"datum.k == 'p'"}],"mark":{"type":"square","size":16,"opacity":1},"encoding":{"x":{"field":"f","type":"quantitative","axis":null},"y":{"field":"v","type":"quantitative","axis":null},"color":{"field":"c","type":"nominal"}}},
 {"transform":[{"filter":"datum.k == 't'"}],"mark":{"type":"point","shape":"triangle-up","size":45,"strokeWidth":1,"opacity":1},"encoding":{"x":{"field":"f","type":"quantitative","axis":null},"y":{"field":"v","type":"quantitative","axis":null},"color":{"field":"c","type":"nominal"}}},
 {"transform":[{"filter":"datum.k == 'l'"}],"mark":{"type":"text","font":"DejaVu Sans","fontSize":16,"baseline":"middle"},"encoding":{"x":{"field":"f","type":"quantitative","axis":null},"y":{"field":"v","type":"quantitative","axis":null},"text":{"field":"c"},"color":{"field":"c","type":"nominal"}}}
]},
{"title":"B1641-45","width":258,"height":239,"transform":[{"filter":"datum.p == 'B1641-45'"}],"resolve":{"axis":{"x":"independent","y":"independent"}},"layer":[
 {"transform":[{"filter":"datum.k == 'e'"}],"mark":{"type":"rule","strokeWidth":2},"encoding":{"x":{"field":"f","type":"quantitative","scale":{"type":"log","domain":[577,2000],"reverse":true,"nice":false},"axis":{"orient":"bottom","values":[600,700,800,900,1000],"title":"Frequency (MHz)","format":"d","labelExpr":"indexof([2,5,10,200,500,1000], datum.value) >= 0 ? datum.label : ''"}},"y":{"field":"lo","type":"quantitative","scale":{"type":"log","domain":[2,17],"nice":false},"axis":{"orient":"left","values":[2,3,4,5,6,7,8,9,10],"title":"Scaled Beam Dimensions (°)","format":"d","labelExpr":"indexof([2,5,10,200,500,1000], datum.value) >= 0 ? datum.label : ''"}},"y2":{"field":"hi"},"color":{"field":"c","type":"nominal"}}},
 {"transform":[{"filter":"datum.k == 'e'"},{"fold":["lo","hi"],"as":["end","w"]}],"mark":{"type":"tick","orient":"horizontal","size":6,"thickness":2},"encoding":{"x":{"field":"f","type":"quantitative","axis":null},"y":{"field":"w","type":"quantitative","axis":null},"color":{"field":"c","type":"nominal"}}},
 {"transform":[{"filter":"datum.k == 'p'"}],"mark":{"type":"line","strokeWidth":2},"encoding":{"x":{"field":"f","type":"quantitative","axis":{"orient":"top","values":[600,700,800,900,1000],"labels":false,"title":null}},"y":{"field":"v","type":"quantitative","axis":{"orient":"right","values":[2,3,4,5,6,7,8,9,10],"labels":false,"title":null}},"color":{"field":"c","type":"nominal"}}},
 {"transform":[{"filter":"datum.k == 'p'"}],"mark":{"type":"square","size":16,"opacity":1},"encoding":{"x":{"field":"f","type":"quantitative","axis":null},"y":{"field":"v","type":"quantitative","axis":null},"color":{"field":"c","type":"nominal"}}},
 {"transform":[{"filter":"datum.k == 't'"}],"mark":{"type":"point","shape":"triangle-up","size":45,"strokeWidth":1,"opacity":1},"encoding":{"x":{"field":"f","type":"quantitative","axis":null},"y":{"field":"v","type":"quantitative","axis":null},"color":{"field":"c","type":"nominal"}}},
 {"transform":[{"filter":"datum.k == 'l'"}],"mark":{"type":"text","font":"DejaVu Sans","fontSize":16,"baseline":"middle"},"encoding":{"x":{"field":"f","type":"quantitative","axis":null},"y":{"field":"v","type":"quantitative","axis":null},"text":{"field":"c"},"color":{"field":"c","type":"nominal"}}}
]},
{"title":"B1641-68","width":258,"height":239,"transform":[{"filter":"datum.p == 'B1641-68'"}],"resolve":{"axis":{"x":"independent","y":"independent"}},"layer":[
 {"transform":[{"filter":"datum.k == 'e'"}],"mark":{"type":"rule","strokeWidth":2},"encoding":{"x":{"field":"f","type":"quantitative","scale":{"type":"log","domain":[577,2000],"reverse":true,"nice":false},"axis":{"orient":"bottom","values":[600,700,800,900,1000],"title":"Frequency (MHz)","format":"d","labelExpr":"indexof([2,5,10,200,500,1000], datum.value) >= 0 ? datum.label : ''"}},"y":{"field":"lo","type":"quantitative","scale":{"type":"log","domain":[2,8],"nice":false},"axis":{"orient":"left","values":[2,3,4,5,6,7],"title":"Scaled Beam Dimensions (°)","format":"d","labelExpr":"indexof([2,5,10,200,500,1000], datum.value) >= 0 ? datum.label : ''"}},"y2":{"field":"hi"},"color":{"field":"c","type":"nominal"}}},
 {"transform":[{"filter":"datum.k == 'e'"},{"fold":["lo","hi"],"as":["end","w"]}],"mark":{"type":"tick","orient":"horizontal","size":6,"thickness":2},"encoding":{"x":{"field":"f","type":"quantitative","axis":null},"y":{"field":"w","type":"quantitative","axis":null},"color":{"field":"c","type":"nominal"}}},
 {"transform":[{"filter":"datum.k == 'p'"}],"mark":{"type":"line","strokeWidth":2},"encoding":{"x":{"field":"f","type":"quantitative","axis":{"orient":"top","values":[600,700,800,900,1000],"labels":false,"title":null}},"y":{"field":"v","type":"quantitative","axis":{"orient":"right","values":[2,3,4,5,6,7],"labels":false,"title":null}},"color":{"field":"c","type":"nominal"}}},
 {"transform":[{"filter":"datum.k == 'p'"}],"mark":{"type":"square","size":16,"opacity":1},"encoding":{"x":{"field":"f","type":"quantitative","axis":null},"y":{"field":"v","type":"quantitative","axis":null},"color":{"field":"c","type":"nominal"}}},
 {"transform":[{"filter":"datum.k == 't'"}],"mark":{"type":"point","shape":"triangle-up","size":45,"strokeWidth":1,"opacity":1},"encoding":{"x":{"field":"f","type":"quantitative","axis":null},"y":{"field":"v","type":"quantitative","axis":null},"color":{"field":"c","type":"nominal"}}},
 {"transform":[{"filter":"datum.k == 'l'"}],"mark":{"type":"text","font":"DejaVu Sans","fontSize":16,"baseline":"middle"},"encoding":{"x":{"field":"f","type":"quantitative","axis":null},"y":{"field":"v","type":"quantitative","axis":null},"text":{"field":"c"},"color":{"field":"c","type":"nominal"}}}
]},
{"title":"B1647-52","width":258,"height":239,"transform":[{"filter":"datum.p == 'B1647-52'"}],"resolve":{"axis":{"x":"independent","y":"independent"}},"layer":[
 {"transform":[{"filter":"datum.k == 'e'"}],"mark":{"type":"rule","strokeWidth":2},"encoding":{"x":{"field":"f","type":"quantitative","scale":{"type":"log","domain":[580,2000],"reverse":true,"nice":false},"axis":{"orient":"bottom","values":[600,700,800,900,1000],"title":"Frequency (MHz)","format":"d","labelExpr":"indexof([2,5,10,200,500,1000], datum.value) >= 0 ? datum.label : ''"}},"y":{"field":"lo","type":"quantitative","scale":{"type":"log","domain":[3,6],"nice":false},"axis":{"orient":"left","values":[4,5],"title":"Scaled Beam Dimensions (°)","format":"d","labelExpr":"indexof([2,5,10,200,500,1000], datum.value) >= 0 ? datum.label : ''"}},"y2":{"field":"hi"},"color":{"field":"c","type":"nominal"}}},
 {"transform":[{"filter":"datum.k == 'e'"},{"fold":["lo","hi"],"as":["end","w"]}],"mark":{"type":"tick","orient":"horizontal","size":6,"thickness":2},"encoding":{"x":{"field":"f","type":"quantitative","axis":null},"y":{"field":"w","type":"quantitative","axis":null},"color":{"field":"c","type":"nominal"}}},
 {"transform":[{"filter":"datum.k == 'p'"}],"mark":{"type":"line","strokeWidth":2},"encoding":{"x":{"field":"f","type":"quantitative","axis":{"orient":"top","values":[600,700,800,900,1000],"labels":false,"title":null}},"y":{"field":"v","type":"quantitative","axis":{"orient":"right","values":[4,5],"labels":false,"title":null}},"color":{"field":"c","type":"nominal"}}},
 {"transform":[{"filter":"datum.k == 'p'"}],"mark":{"type":"square","size":16,"opacity":1},"encoding":{"x":{"field":"f","type":"quantitative","axis":null},"y":{"field":"v","type":"quantitative","axis":null},"color":{"field":"c","type":"nominal"}}},
 {"transform":[{"filter":"datum.k == 't'"}],"mark":{"type":"point","shape":"triangle-up","size":45,"strokeWidth":1,"opacity":1},"encoding":{"x":{"field":"f","type":"quantitative","axis":null},"y":{"field":"v","type":"quantitative","axis":null},"color":{"field":"c","type":"nominal"}}},
 {"transform":[{"filter":"datum.k == 'l'"}],"mark":{"type":"text","font":"DejaVu Sans","fontSize":16,"baseline":"middle"},"encoding":{"x":{"field":"f","type":"quantitative","axis":null},"y":{"field":"v","type":"quantitative","axis":null},"text":{"field":"c"},"color":{"field":"c","type":"nominal"}}}
]}
],
"config": {
 "view": {"stroke": "black", "strokeWidth": 2},
 "range": {"category": ["#ff0000", "#00ff00", "#00ffff"]},
 "legend": {"disable": true},
 "title": {"font": "DejaVu Sans", "fontSize": 19, "fontWeight": "bold", "color": "black", "anchor": "middle", "frame": "group", "offset": -36, "dx": 21, "baseline": "alphabetic"},
 "axis": {"grid": false, "domain": false, "tickColor": "black", "tickSize": -4, "tickWidth": 1.2, "labelFont": "Liberation Sans", "labelFontWeight": "bold", "labelFontSize": 10.5, "labelColor": "black", "titleFont": "Liberation Sans", "titleFontWeight": "bold", "titleFontSize": 12.5, "titleColor": "black", "labelOverlap": false, "labelFlush": false},
 "axisLeft": {"labelAngle": 270, "labelPadding": 6, "titlePadding": 12.5},
 "axisBottom": {"labelAngle": 0, "labelPadding": 7, "titlePadding": 15}
}
}
